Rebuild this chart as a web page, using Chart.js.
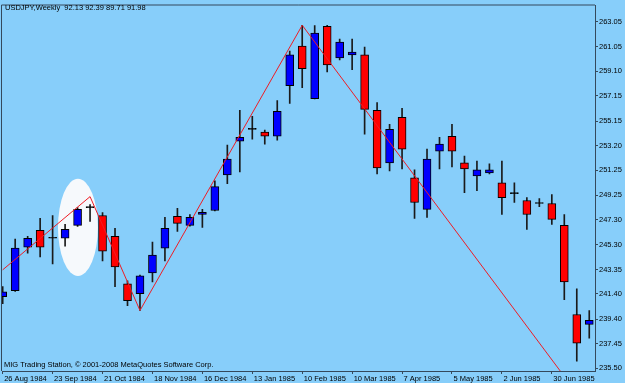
<!DOCTYPE html>
<html>
<head>
<meta charset="utf-8">
<script src="https://cdn.jsdelivr.net/npm/chart.js@4.4.1/dist/chart.umd.min.js"></script>
<style>
  html, body { margin: 0; padding: 0; background: #87CEFA; }
  #wrap { width: 625px; height: 383px; }
</style>
</head>
<body>
<div id="wrap"><canvas id="chart" width="625" height="383"></canvas></div>
<script>
// USDJPY weekly candles, 26 Aug 1984 .. early Jul 1985
const openP  = [241.19, 241.66, 245.13, 246.46, 245.83, 245.83, 246.86, 248.27, 247.64, 245.99,
                242.21, 241.43, 243.08, 245.05, 247.57, 246.86, 247.72, 248.04, 250.87, 253.55,
                254.49, 254.26, 253.94, 257.96, 261.11, 256.93, 262.68, 260.16, 260.40, 260.40,
                255.99, 251.82, 255.44, 250.64, 248.12, 252.76, 253.94, 251.82, 250.79, 251.03,
                250.24, 249.38, 248.83, 248.59, 248.59, 246.86, 239.77, 238.99];
const highP  = [241.98, 245.76, 245.99, 247.41, 247.64, 246.94, 248.27, 248.51, 247.88, 246.62,
                242.45, 242.90, 245.52, 247.49, 248.20, 247.72, 248.12, 250.40, 253.23, 255.99,
                255.52, 254.42, 256.78, 260.71, 262.76, 262.73, 262.76, 261.66, 261.66, 261.03,
                256.62, 254.89, 256.15, 251.27, 252.92, 253.86, 254.89, 252.37, 251.97, 251.74,
                251.97, 250.24, 249.06, 248.98, 249.30, 247.72, 241.82, 240.09];
const lowP   = [240.64, 241.60, 244.65, 244.34, 243.79, 245.20, 246.78, 247.17, 244.02, 241.98,
                240.48, 240.09, 242.37, 244.02, 246.38, 246.80, 246.70, 248.00, 250.16, 251.11,
                253.71, 253.31, 253.63, 256.54, 257.80, 256.90, 259.06, 260.00, 259.22, 254.10,
                250.95, 251.19, 251.34, 247.41, 247.49, 251.34, 251.50, 249.46, 249.61, 250.95,
                247.72, 248.67, 246.54, 248.35, 246.94, 240.95, 236.07, 237.88];
const closeP = [241.58, 245.05, 245.83, 245.13, 245.83, 246.54, 248.12, 248.27, 244.81, 243.55,
                240.87, 242.84, 244.50, 246.62, 247.01, 247.49, 247.90, 249.93, 252.13, 253.86,
                254.49, 253.94, 255.91, 260.40, 259.30, 262.13, 259.61, 261.42, 260.63, 256.07,
                251.42, 254.49, 252.92, 248.67, 252.13, 253.31, 252.76, 251.34, 251.27, 251.27,
                249.06, 249.38, 247.72, 248.59, 247.33, 242.37, 237.49, 239.30];

// zigzag indicator vertices (bar index, price)
const zigIdx   = [0, 7, 11, 24, 45];
const zigPrice = [243.32, 249.14, 240.09, 262.76, 234.85];

// axis labels
const dateTickIdx = [0, 4, 8, 12, 16, 20, 24, 28, 32, 36, 40, 44];
const dateLabels  = ['26 Aug 1984', '23 Sep 1984', '21 Oct 1984', '18 Nov 1984', '16 Dec 1984',
                     '13 Jan 1985', '10 Feb 1985', '10 Mar 1985', '7 Apr 1985', '5 May 1985',
                     '2 Jun 1985', '30 Jun 1985'];
const priceTicks  = [263.05, 261.05, 259.10, 257.15, 255.15, 253.20, 251.25, 249.25,
                     247.30, 245.30, 243.35, 241.40, 239.40, 237.45, 235.50];

const titleText = 'USDJPY,Weekly  92.13 92.39 89.71 91.98';
const footText = 'MIG Trading Station, \u00A9 2001-2008 MetaQuotes Software Corp.';

// white ellipse marked on the chart (bar index / price space)
const markCenter = { x: 6.03, y: 246.70 };
const markRadius = { x: 1.6, y: 3.86 };

const FONT = '"Liberation Sans", Arial, sans-serif';
const BG = '#87CEFA';
const EDGE = '#34495c';

const bodies = openP.map((o, i) => ({ x: i, y: [o, closeP[i]] }));
const wicks = lowP.map((l, i) => ({ x: i, y: [l, highP[i]] }));
const bodyColors = openP.map((o, i) => {
    if (Math.abs(closeP[i] - o) < 0.03) return '#000000';
    return closeP[i] > o ? '#0000ff' : '#ff0000';
});
const zigzag = zigIdx.map((x, i) => ({ x: x, y: zigPrice[i] }));

const decorPlugin = {
    id: 'decor',
    beforeDatasetsDraw(chart) {
        const { ctx, scales: { x, y } } = chart;
        const cx = x.getPixelForValue(markCenter.x);
        const cy = y.getPixelForValue(markCenter.y);
        const rx = Math.abs(x.getPixelForValue(markCenter.x + markRadius.x) - cx);
        const ry = Math.abs(y.getPixelForValue(markCenter.y + markRadius.y) - cy);
        ctx.save();
        ctx.fillStyle = '#f6f9fc';
        ctx.beginPath();
        ctx.ellipse(cx, cy, rx, ry, 0, 0, Math.PI * 2);
        ctx.fill();
        ctx.restore();
    },
    afterDraw(chart) {
        const { ctx, chartArea: a } = chart;
        ctx.save();
        // left and top frame lines
        ctx.strokeStyle = EDGE;
        ctx.lineWidth = 1;
        ctx.beginPath();
        ctx.moveTo(a.left - 0.5, a.bottom);
        ctx.lineTo(a.left - 0.5, a.top - 0.5);
        ctx.lineTo(a.right, a.top - 0.5);
        ctx.stroke();
        ctx.fillStyle = '#000';
        ctx.font = '7.5px ' + FONT;
        ctx.textBaseline = 'middle';
        ctx.fillText(titleText, 5, 7.5);
        ctx.fillText(footText, 4, 365);
        ctx.restore();
    }
};

new Chart(document.getElementById('chart'), {
    type: 'bar',
    data: {
        datasets: [
            {
                type: 'line',
                data: zigzag,
                borderColor: '#ee1c24',
                borderWidth: 1,
                pointRadius: 0,
                tension: 0,
                order: 0
            },
            {
                data: bodies,
                backgroundColor: bodyColors,
                borderColor: '#000',
                borderWidth: 1,
                borderSkipped: false,
                barThickness: 8,
                minBarLength: 1,
                grouped: false,
                order: 1
            },
            {
                data: wicks,
                backgroundColor: '#1a1a1a',
                borderWidth: 0,
                barThickness: 1,
                grouped: false,
                order: 2
            }
        ]
    },
    options: {
        responsive: false,
        animation: false,
        events: [],
        layout: { padding: { left: 2, top: 2, right: 0, bottom: 0 } },
        plugins: {
            legend: { display: false },
            tooltip: { enabled: false },
            title: { display: false }
        },
        scales: {
            x: {
                type: 'linear',
                min: -0.056,
                max: 47.46,
                offset: false,
                afterBuildTicks: (scale) => {
                    scale.ticks = dateTickIdx.map(v => ({ value: v }));
                },
                afterFit: (scale) => { scale.height = 12; },
                ticks: {
                    autoSkip: false,
                    maxRotation: 0,
                    align: 'start',
                    labelOffset: 1.5,
                    padding: 0,
                    color: '#000',
                    font: { family: FONT, size: 7.5 },
                    callback: (value, index) => dateLabels[index]
                },
                grid: {
                    offset: false,
                    drawOnChartArea: false,
                    drawTicks: true,
                    tickLength: 3,
                    color: EDGE
                },
                border: { display: true, color: EDGE, width: 1 }
            },
            y: {
                type: 'linear',
                position: 'right',
                min: 235.28,
                max: 264.33,
                afterBuildTicks: (scale) => {
                    scale.ticks = priceTicks.map(v => ({ value: v }));
                },
                afterFit: (scale) => { scale.width = 30; },
                ticks: {
                    padding: 1,
                    color: '#000',
                    font: { family: FONT, size: 7.5 },
                    callback: (value) => value.toFixed(2)
                },
                grid: {
                    drawOnChartArea: false,
                    drawTicks: true,
                    tickLength: 3,
                    color: EDGE
                },
                border: { display: true, color: EDGE, width: 1 }
            }
        }
    },
    plugins: [decorPlugin]
});
</script>
</body>
</html>
